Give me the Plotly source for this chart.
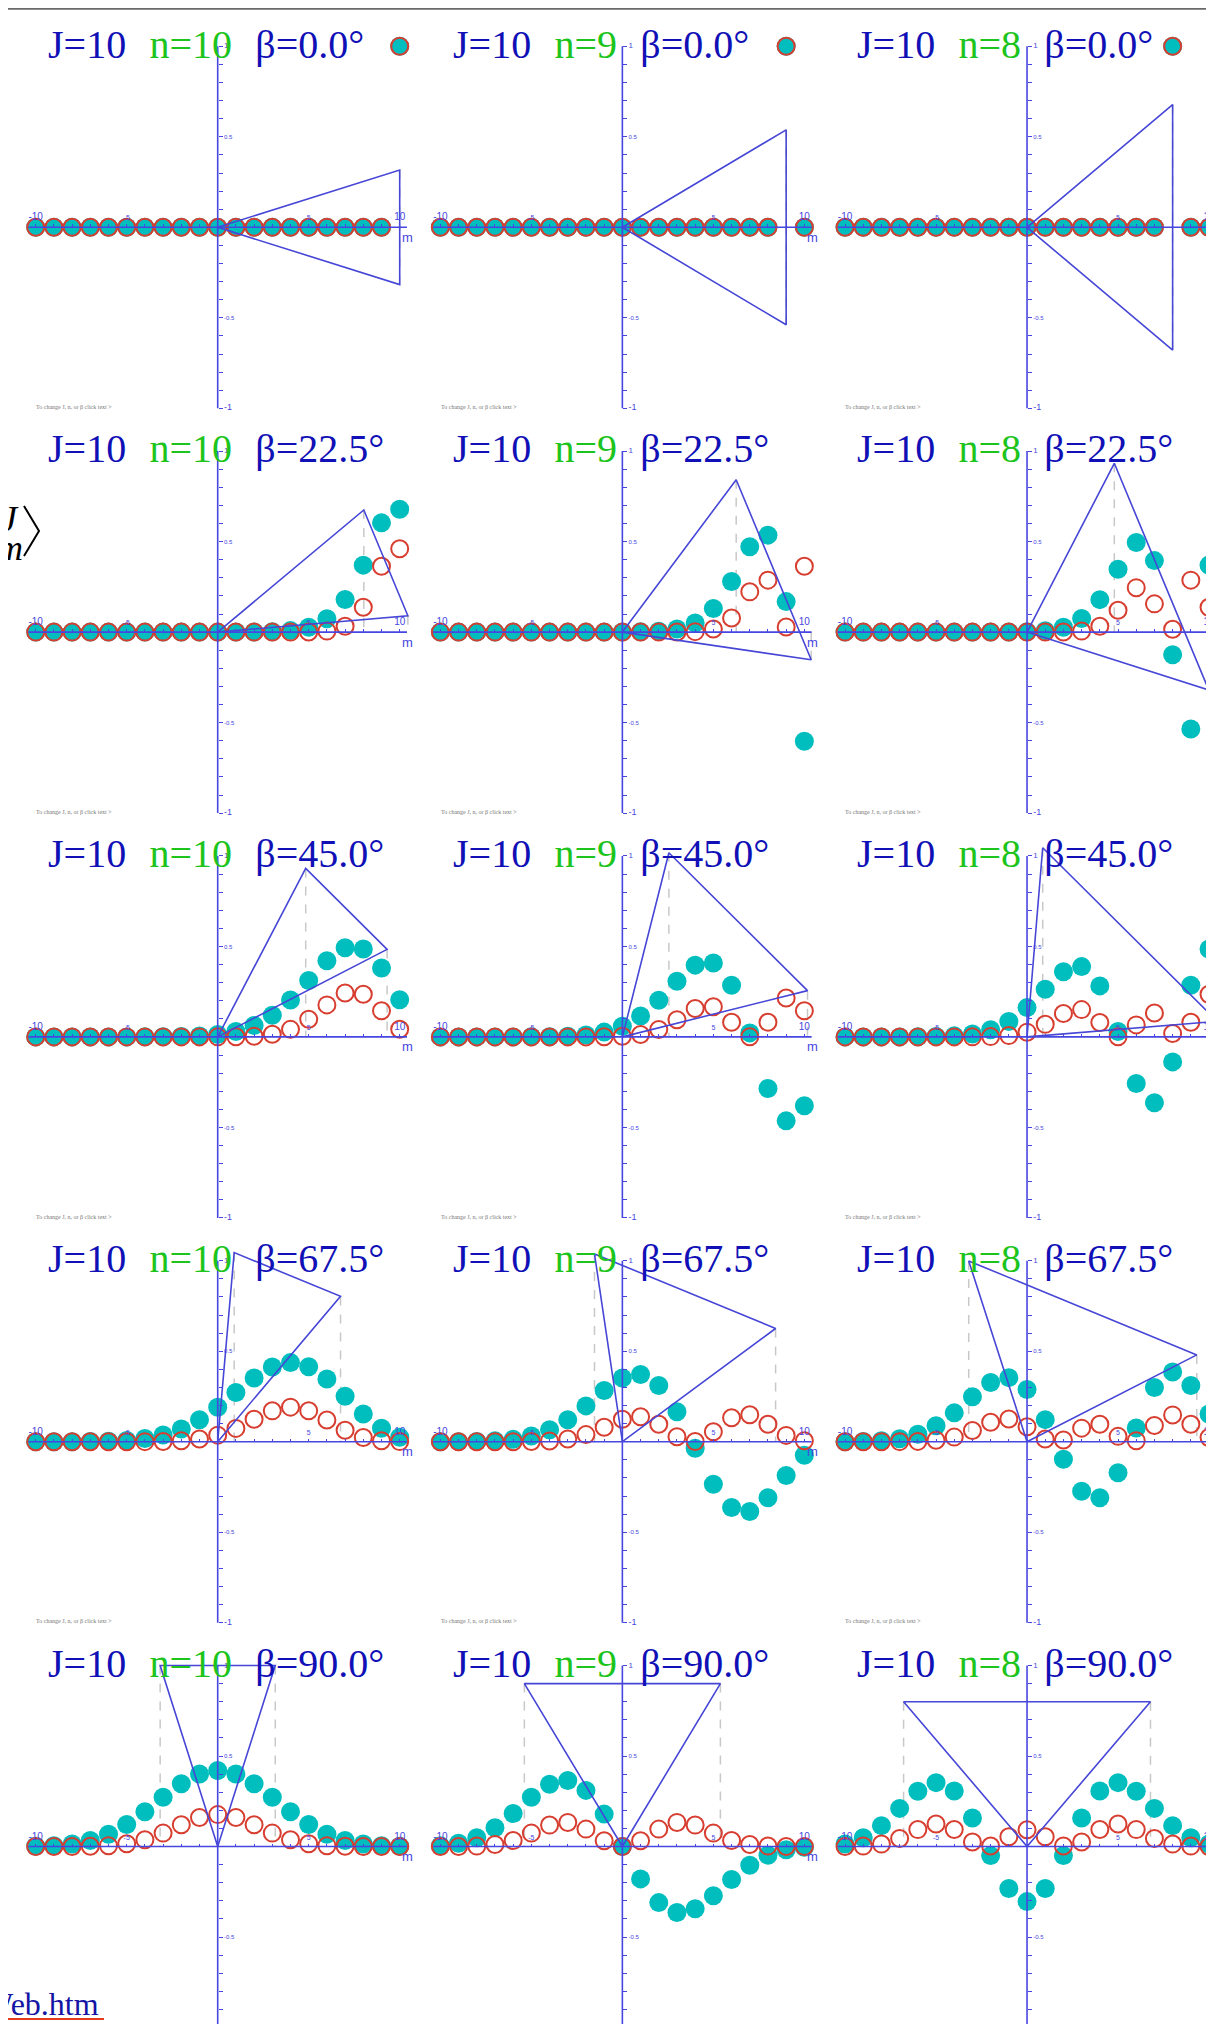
import math
import plotly.graph_objects as go

# ---------------- data ----------------
J_VAL = 10
BETAS = [0.0, 22.5, 45.0, 67.5, 90.0]
NS = [10, 9, 8]
M_VALUES = [-10, -9, -8, -7, -6, -5, -4, -3, -2, -1, 0, 1, 2, 3, 4, 5, 6, 7, 8, 9, 10]
X_TICK_TEXT = ["-10", "", "", "", "", "<span style='font-size:7px'>-5</span>", "", "", "", "", "",
               "", "", "", "", "<span style='font-size:7px'>5</span>", "", "", "", "", "10"]
Y_TICK_VALUES = [-1.0, -0.9, -0.8, -0.7, -0.6, -0.5, -0.4, -0.3, -0.2, -0.1, 0.0,
                 0.1, 0.2, 0.3, 0.4, 0.5, 0.6, 0.7, 0.8, 0.9, 1.0]
Y_TICK_TEXT = ["<span style='font-size:9px'>-1</span>", "", "", "", "", "-0.5", "", "", "", "", "",
               "", "", "", "", "0.5", "", "", "", "", "<span style='font-size:8px'>1</span>"]

# amplitude (teal, filled) and probability (red, open) for beta = 0
D_B0_N10 = [0, 0, 0, 0, 0, 0, 0, 0, 0, 0, 0, 0, 0, 0, 0, 0, 0, 0, 0, 0, 1]
P_B0_N10 = [0, 0, 0, 0, 0, 0, 0, 0, 0, 0, 0, 0, 0, 0, 0, 0, 0, 0, 0, 0, 1]
D_B0_N9 = [0, 0, 0, 0, 0, 0, 0, 0, 0, 0, 0, 0, 0, 0, 0, 0, 0, 0, 0, 1, 0]
P_B0_N9 = [0, 0, 0, 0, 0, 0, 0, 0, 0, 0, 0, 0, 0, 0, 0, 0, 0, 0, 0, 1, 0]
D_B0_N8 = [0, 0, 0, 0, 0, 0, 0, 0, 0, 0, 0, 0, 0, 0, 0, 0, 0, 0, 1, 0, 0]
P_B0_N8 = [0, 0, 0, 0, 0, 0, 0, 0, 0, 0, 0, 0, 0, 0, 0, 0, 0, 0, 1, 0, 0]

# beta = 22.5
D_B22_N10 = [0, 0, 0, 0, 0, 0, 0, 0, 0, 0, 0.0000, 0.0001, 0.0006, 0.0023, 0.0083, 0.0263, 0.0739, 0.1803, 0.3700, 0.6035, 0.6784]
P_B22_N10 = [0, 0, 0, 0, 0, 0, 0, 0, 0, 0, 0, 0, 0, 0, 0.0001, 0.0007, 0.0055, 0.0325, 0.1369, 0.3642, 0.4602]
D_B22_N9 = [0, 0, 0, 0, 0, 0, 0, 0, 0, 0, 0.0003, 0.0013, 0.0050, 0.0170, 0.0507, 0.1303, 0.2797, 0.4717, 0.5357, 0.1684, -0.6035]
P_B22_N9 = [0, 0, 0, 0, 0, 0, 0, 0, 0, 0, 0, 0, 0, 0.0003, 0.0026, 0.0170, 0.0782, 0.2225, 0.2870, 0.0284, 0.3642]
D_B22_N8 = [0, 0, 0, 0, 0, 0, 0, 0, 0.0001, 0.0005, 0.0021, 0.0080, 0.0263, 0.0748, 0.1793, 0.3471, 0.4955, 0.3950, -0.1254, -0.5357, 0.3700]
P_B22_N8 = [0, 0, 0, 0, 0, 0, 0, 0, 0, 0, 0, 0.0001, 0.0007, 0.0056, 0.0321, 0.1205, 0.2455, 0.1560, 0.0157, 0.2870, 0.1369]

# beta = 45
D_B45_N10 = [0, 0, 0, 0, 0, 0.0000, 0.0002, 0.0006, 0.0019, 0.0052, 0.0131, 0.0302, 0.0631, 0.1195, 0.2041, 0.3116, 0.4205, 0.4925, 0.4854, 0.3802, 0.2052]
P_B45_N10 = [0, 0, 0, 0, 0, 0, 0, 0, 0, 0, 0.0002, 0.0009, 0.0040, 0.0143, 0.0417, 0.0971, 0.1768, 0.2425, 0.2356, 0.1445, 0.0421]
D_B45_N9 = [0, 0, 0, 0, 0.0001, 0.0003, 0.0013, 0.0038, 0.0107, 0.0264, 0.0587, 0.1159, 0.2024, 0.3078, 0.3964, 0.4082, 0.2849, 0.0221, -0.2852, -0.4638, -0.3802]
P_B45_N9 = [0, 0, 0, 0, 0, 0, 0, 0, 0.0001, 0.0007, 0.0034, 0.0134, 0.0410, 0.0947, 0.1571, 0.1666, 0.0812, 0.0005, 0.0813, 0.2151, 0.1445]
D_B45_N8 = [0, 0, 0, 0.0001, 0.0005, 0.0018, 0.0058, 0.0161, 0.0396, 0.0856, 0.1618, 0.2634, 0.3596, 0.3884, 0.2819, 0.0294, -0.2575, -0.3637, -0.1381, 0.2852, 0.4854]
P_B45_N8 = [0, 0, 0, 0, 0, 0, 0, 0.0003, 0.0016, 0.0073, 0.0262, 0.0694, 0.1293, 0.1508, 0.0795, 0.0009, 0.0663, 0.1323, 0.0191, 0.0813, 0.2356]

# beta = 67.5
D_B67_N10 = [0.0000, 0.0001, 0.0002, 0.0009, 0.0027, 0.0073, 0.0174, 0.0368, 0.0701, 0.1212, 0.1902, 0.2714, 0.3517, 0.4130, 0.4370, 0.4136, 0.3461, 0.2512, 0.1535, 0.0745, 0.0249]
P_B67_N10 = [0, 0, 0, 0, 0, 0.0001, 0.0003, 0.0014, 0.0049, 0.0147, 0.0362, 0.0736, 0.1237, 0.1705, 0.1910, 0.1711, 0.1198, 0.0631, 0.0236, 0.0056, 0.0006]
D_B67_N9 = [0.0001, 0.0003, 0.0014, 0.0047, 0.0130, 0.0314, 0.0658, 0.1214, 0.1978, 0.2831, 0.3523, 0.3714, 0.3110, 0.1653, -0.0366, -0.2349, -0.3640, -0.3859, -0.3101, -0.1866, -0.0745]
P_B67_N9 = [0, 0, 0, 0, 0.0002, 0.0010, 0.0043, 0.0147, 0.0391, 0.0801, 0.1241, 0.1379, 0.0967, 0.0273, 0.0013, 0.0552, 0.1325, 0.1489, 0.0962, 0.0348, 0.0056]
D_B67_N8 = [0.0002, 0.0014, 0.0054, 0.0164, 0.0413, 0.0877, 0.1594, 0.2482, 0.3272, 0.3539, 0.2882, 0.1219, -0.0974, -0.2738, -0.3099, -0.1717, 0.0757, 0.2996, 0.3847, 0.3101, 0.1535]
P_B67_N8 = [0, 0, 0, 0.0003, 0.0017, 0.0077, 0.0254, 0.0616, 0.1071, 0.1252, 0.0830, 0.0149, 0.0095, 0.0750, 0.0960, 0.0295, 0.0057, 0.0898, 0.1480, 0.0962, 0.0236]

# beta = 90
D_B90_N10 = [0.0010, 0.0044, 0.0135, 0.0330, 0.0680, 0.1216, 0.1923, 0.2719, 0.3466, 0.4002, 0.4198, 0.4002, 0.3466, 0.2719, 0.1923, 0.1216, 0.0680, 0.0330, 0.0135, 0.0044, 0.0010]
P_B90_N10 = [0, 0, 0.0002, 0.0011, 0.0046, 0.0148, 0.0370, 0.0739, 0.1201, 0.1602, 0.1762, 0.1602, 0.1201, 0.0739, 0.0370, 0.0148, 0.0046, 0.0011, 0.0002, 0, 0]
D_B90_N9 = [0.0044, 0.0176, 0.0482, 0.1032, 0.1824, 0.2719, 0.3439, 0.3648, 0.3100, 0.1790, 0.0, -0.1790, -0.3100, -0.3648, -0.3439, -0.2719, -0.1824, -0.1032, -0.0482, -0.0176, -0.0044]
P_B90_N9 = [0, 0.0003, 0.0023, 0.0107, 0.0333, 0.0739, 0.1183, 0.1331, 0.0961, 0.0320, 0.0, 0.0320, 0.0961, 0.1331, 0.1183, 0.0739, 0.0333, 0.0107, 0.0023, 0.0003, 0]
D_B90_N8 = [0.0135, 0.0482, 0.1152, 0.2105, 0.3057, 0.3529, 0.3069, 0.1578, -0.0503, -0.2323, -0.3045, -0.2323, -0.0503, 0.1578, 0.3069, 0.3529, 0.3057, 0.2105, 0.1152, 0.0482, 0.0135]
P_B90_N8 = [0.0002, 0.0023, 0.0133, 0.0443, 0.0935, 0.1245, 0.0942, 0.0249, 0.0025, 0.0540, 0.0927, 0.0540, 0.0025, 0.0249, 0.0942, 0.1245, 0.0935, 0.0443, 0.0133, 0.0023, 0.0002]

AMPLITUDE = [
    [D_B0_N10, D_B0_N9, D_B0_N8],
    [D_B22_N10, D_B22_N9, D_B22_N8],
    [D_B45_N10, D_B45_N9, D_B45_N8],
    [D_B67_N10, D_B67_N9, D_B67_N8],
    [D_B90_N10, D_B90_N9, D_B90_N8],
]
PROBABILITY = [
    [P_B0_N10, P_B0_N9, P_B0_N8],
    [P_B22_N10, P_B22_N9, P_B22_N8],
    [P_B45_N10, P_B45_N9, P_B45_N8],
    [P_B67_N10, P_B67_N9, P_B67_N8],
    [P_B90_N10, P_B90_N9, P_B90_N8],
]

# ---------------- geometry / style ----------------
FIG_W, FIG_H = 1214, 2024
N_ROWS, N_COLS = 5, 3
PANEL_W = FIG_W / N_COLS
PANEL_H = FIG_H / N_ROWS
ORIGIN_DX = 209.7      # px from panel left to m = 0
ORIGIN_DY = 219.3      # px from panel top to value 0
PX_PER_M = 18.2
PX_PER_UNIT = 181.0
AXIS_M_EXTENT = 10.4
AXIS_V_EXTENT = 1.0

TEAL = "rgb(0,190,190)"
RED = "rgb(215,62,48)"
AXIS_BLUE = "rgb(70,70,225)"
TRI_BLUE = "rgb(70,70,215)"
TITLE_BLUE = "rgb(16,16,182)"
TITLE_GREEN = "rgb(28,196,28)"
DASH_GRAY = "rgb(200,200,200)"
SERIF = "Liberation Serif"
GAP = "\u00a0\u00a0\u200a"


def paper_x(px):
    return px / FIG_W


def paper_y(py):
    return 1 - py / FIG_H


fig = go.Figure()
axes_layout = {}
annotations = []
shapes = []

x_range = [-ORIGIN_DX / PX_PER_M, (PANEL_W - ORIGIN_DX) / PX_PER_M]
y_range = [-(PANEL_H - ORIGIN_DY) / PX_PER_UNIT, ORIGIN_DY / PX_PER_UNIT]

for r, beta in enumerate(BETAS):
    for c, n in enumerate(NS):
        k = r * N_COLS + c + 1
        suffix = "" if k == 1 else str(k)
        xref, yref = "x" + suffix, "y" + suffix
        left = c * PANEL_W
        top = r * PANEL_H

        axes_layout["xaxis" + suffix] = dict(
            domain=[c / N_COLS, (c + 1) / N_COLS], range=x_range,
            anchor="free", position=paper_y(top + ORIGIN_DY), side="top",
            showline=False, showgrid=False, zeroline=False,
            ticks="outside", ticklen=3, tickwidth=1, tickcolor=AXIS_BLUE,
            tickvals=M_VALUES, ticktext=X_TICK_TEXT,
            tickfont=dict(family="Liberation Sans", size=10, color=AXIS_BLUE),
            layer="above traces", fixedrange=True,
        )
        axes_layout["yaxis" + suffix] = dict(
            domain=[1 - (r + 1) / N_ROWS, 1 - r / N_ROWS], range=y_range,
            anchor="free", position=paper_x(left + ORIGIN_DX), side="right",
            showline=False, showgrid=False, zeroline=False,
            ticks="outside", ticklen=4, tickwidth=1, tickcolor=AXIS_BLUE,
            tickvals=Y_TICK_VALUES, ticktext=Y_TICK_TEXT,
            tickfont=dict(family="Liberation Sans", size=6, color=AXIS_BLUE),
            layer="above traces", fixedrange=True,
        )

        # cone triangle for the angular momentum vector
        b = math.radians(beta)
        w = math.sqrt(J_VAL * (J_VAL + 1) - n * n)
        cx, cy = n * math.cos(b), n * math.sin(b)
        p1 = (cx - w * math.sin(b), (cy + w * math.cos(b)) / J_VAL)
        p2 = (cx + w * math.sin(b), (cy - w * math.cos(b)) / J_VAL)

        fig.add_trace(go.Scatter(
            x=[p1[0], p1[0], None, p2[0], p2[0]], y=[p1[1], 0, None, p2[1], 0],
            mode="lines", line=dict(color=DASH_GRAY, width=1.5, dash="dash"),
            xaxis=xref, yaxis=yref, hoverinfo="skip", showlegend=False))
        fig.add_trace(go.Scatter(
            x=M_VALUES, y=AMPLITUDE[r][c], mode="markers",
            marker=dict(size=19, color=TEAL, line=dict(width=0)),
            xaxis=xref, yaxis=yref, cliponaxis=False, showlegend=False))
        fig.add_trace(go.Scatter(
            x=M_VALUES, y=PROBABILITY[r][c], mode="markers",
            marker=dict(symbol="circle-open", size=17, color=RED, line=dict(width=2, color=RED)),
            xaxis=xref, yaxis=yref, cliponaxis=False, showlegend=False))
        fig.add_trace(go.Scatter(
            x=[-AXIS_M_EXTENT, AXIS_M_EXTENT, None, 0, 0],
            y=[0, 0, None, -AXIS_V_EXTENT, AXIS_V_EXTENT],
            mode="lines", line=dict(color=AXIS_BLUE, width=1.6),
            xaxis=xref, yaxis=yref, hoverinfo="skip", showlegend=False))
        fig.add_trace(go.Scatter(
            x=[0, p1[0], p2[0], 0], y=[0, p1[1], p2[1], 0],
            mode="lines", line=dict(color=TRI_BLUE, width=1.6),
            xaxis=xref, yaxis=yref, hoverinfo="skip", showlegend=False))

        # panel title
        title = (f"J={J_VAL}{GAP}<span style='color:{TITLE_GREEN}'>n={n}</span>"
                 f"{GAP}\u03b2={beta:.1f}\u00b0")
        annotations.append(dict(
            text=title, xref="paper", yref="paper",
            x=paper_x(left + 39), y=paper_y(top + 36),
            xanchor="left", yanchor="middle", showarrow=False, borderpad=0,
            font=dict(family=SERIF, size=40, color=TITLE_BLUE)))
        # m label
        annotations.append(dict(
            text="m", xref=xref, yref=yref, x=10.45, y=-0.055,
            xanchor="center", yanchor="middle", showarrow=False,
            font=dict(family="Liberation Sans", size=13, color=AXIS_BLUE)))
        # tiny hint text
        annotations.append(dict(
            text="To change J, n, or \u03b2 click text >", xref="paper", yref="paper",
            x=paper_x(left + 27), y=paper_y(top + 399),
            xanchor="left", yanchor="middle", showarrow=False, borderpad=0,
            font=dict(family="Liberation Serif", size=6, color="rgb(120,120,120)")))

# partial bracket text at the left edge (row 2)
annotations.append(dict(
    text="<i>J</i>", xref="paper", yref="paper", x=paper_x(12), y=paper_y(511),
    xanchor="right", yanchor="middle", showarrow=False, borderpad=0,
    font=dict(family=SERIF, size=36, color="black")))
annotations.append(dict(
    text="<i>m</i>", xref="paper", yref="paper", x=paper_x(16), y=paper_y(540),
    xanchor="right", yanchor="middle", showarrow=False, borderpad=0,
    font=dict(family=SERIF, size=36, color="black")))
shapes.append(dict(
    type="path", xref="paper", yref="paper",
    path=(f"M {paper_x(16)} {paper_y(498)} L {paper_x(31)} {paper_y(523)} "
          f"L {paper_x(16)} {paper_y(548)}"),
    line=dict(color="black", width=2)))

# link text at bottom left
annotations.append(dict(
    text="Web.htm", xref="paper", yref="paper", x=paper_x(92), y=paper_y(1996),
    xanchor="right", yanchor="middle", showarrow=False, borderpad=0,
    font=dict(family=SERIF, size=32, color="rgb(20,20,165)")))
shapes.append(dict(
    type="line", xref="paper", yref="paper",
    x0=0, x1=paper_x(96), y0=paper_y(2011), y1=paper_y(2011),
    line=dict(color="rgb(230,60,30)", width=2)))
# top border
shapes.append(dict(
    type="line", xref="paper", yref="paper",
    x0=0, x1=1, y0=paper_y(0.8), y1=paper_y(0.8),
    line=dict(color="rgb(105,105,105)", width=2)))

fig.update_layout(
    width=FIG_W, height=FIG_H,
    margin=dict(l=0, r=0, t=0, b=0),
    paper_bgcolor="white", plot_bgcolor="rgba(0,0,0,0)",
    showlegend=False, annotations=annotations, shapes=shapes,
    **axes_layout,
)

fig.write_html("out.html", config={"displayModeBar": False})
